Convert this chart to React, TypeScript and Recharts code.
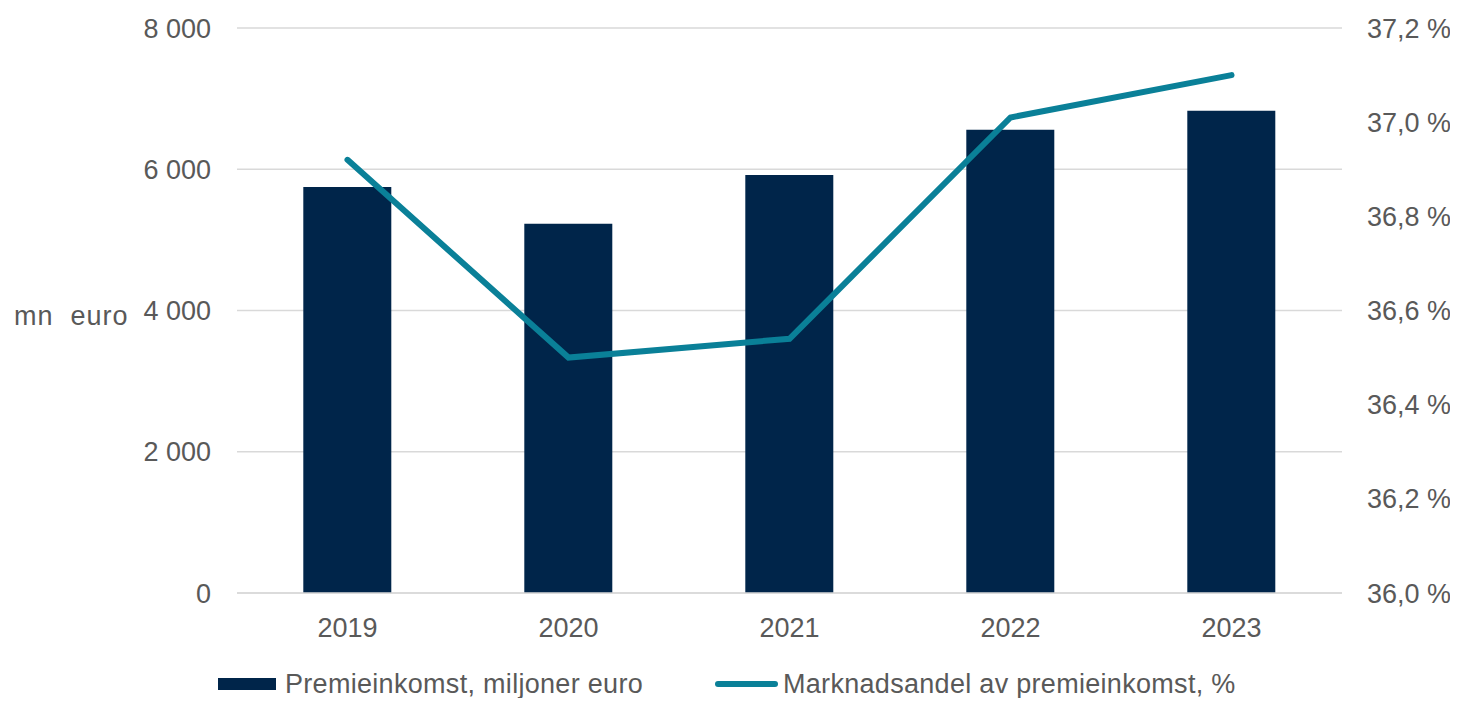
import React from 'react';
import { ComposedChart, Bar, Line, XAxis, YAxis, CartesianGrid, Label } from 'recharts';

const years = ['2019', '2020', '2021', '2022', '2023'];
const premiumIncome = [5750, 5230, 5920, 6560, 6830];
const marketShare = [36.92, 36.5, 36.54, 37.01, 37.1];
const leftTicks = [0, 2000, 4000, 6000, 8000];
const rightTicks = [36.0, 36.2, 36.4, 36.6, 36.8, 37.0, 37.2];

const BAR_COLOR = '#00254a';
const LINE_COLOR = '#0a8098';
const TEXT_COLOR = '#595959';
const FONT = '"Liberation Sans", Arial, sans-serif';

const data = years.map((y, i) => ({ year: y, premium: premiumIncome[i], share: marketShare[i] }));

const fmtLeft = (v: number) => {
  const s = String(Math.round(v));
  return s.replace(/\B(?=(\d{3})+(?!\d))/g, ' ');
};
const fmtRight = (v: number) => v.toFixed(1).replace('.', ',') + ' %';

const tickStyle = { fill: TEXT_COLOR, fontSize: 27, fontFamily: FONT };

export default function App() {
  return (
    <div style={{ position: 'relative', width: 1450, height: 690, fontFamily: FONT }}>
      <ComposedChart
        width={1450}
        height={690}
        data={data}
        margin={{ top: 20, right: 0, left: 0, bottom: 55 }}
        barCategoryGap="30%"
      >
        <CartesianGrid yAxisId="left" vertical={false} stroke="#d9d9d9" strokeWidth={1.5} />
        <XAxis
          dataKey="year"
          tick={tickStyle}
          tickLine={false}
          axisLine={{ stroke: '#d9d9d9', strokeWidth: 1.5 }}
          tickSize={0}
          tickMargin={25}
          height={50}
        />
        <YAxis
          yAxisId="left"
          orientation="left"
          width={229}
          domain={[0, 8000]}
          ticks={leftTicks}
          tickFormatter={fmtLeft}
          tick={tickStyle}
          tickLine={false}
          axisLine={false}
          tickSize={0}
          tickMargin={26}
        >
          <Label
            value={'mn\u00A0 euro'}
            position="insideLeft"
            offset={6}
            dy={5}
            style={{ fill: TEXT_COLOR, fontSize: 27, fontFamily: FONT, letterSpacing: 1 }}
          />
        </YAxis>
        <YAxis
          yAxisId="right"
          orientation="right"
          width={116}
          domain={[36, 37.2]}
          ticks={rightTicks}
          tickFormatter={fmtRight}
          tick={tickStyle}
          tickLine={false}
          axisLine={false}
          tickSize={0}
          tickMargin={25}
        />
        <Bar yAxisId="left" dataKey="premium" fill={BAR_COLOR} isAnimationActive={false} />
        <Line
          yAxisId="right"
          dataKey="share"
          stroke={LINE_COLOR}
          strokeWidth={6}
          dot={false}
          activeDot={false}
          strokeLinecap="round"
          isAnimationActive={false}
        />
      </ComposedChart>
      <div style={{ position: 'absolute', left: 210, top: 660, height: 32, display: 'flex', alignItems: 'center', color: TEXT_COLOR, fontSize: 27, lineHeight: '32px', whiteSpace: 'nowrap' }}>
        <span style={{ display: 'inline-block', width: 58, height: 12, background: BAR_COLOR, marginRight: 9 }} />
        <span style={{ letterSpacing: 0.3 }}>Premieinkomst, miljoner euro</span>
      </div>
      <div style={{ position: 'absolute', left: 707, top: 660, height: 32, display: 'flex', alignItems: 'center', color: TEXT_COLOR, fontSize: 27, lineHeight: '32px', whiteSpace: 'nowrap' }}>
        <span style={{ display: 'inline-block', width: 63, height: 6, borderRadius: 3, background: LINE_COLOR, marginRight: 5 }} />
        <span style={{ letterSpacing: 0.3 }}>Marknadsandel av premieinkomst, %</span>
      </div>
    </div>
  );
}
